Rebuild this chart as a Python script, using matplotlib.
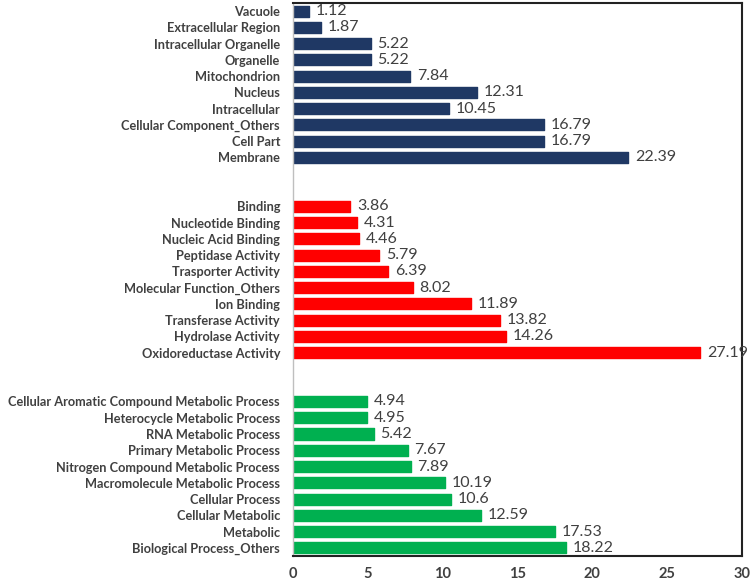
import matplotlib.pyplot as plt

cc_labels = ['Vacuole', 'Extracellular Region', 'Intracellular Organelle', 'Organelle',
             'Mitochondrion', 'Nucleus', 'Intracellular', 'Cellular Component_Others',
             'Cell Part', 'Membrane']
cc_values = [1.12, 1.87, 5.22, 5.22, 7.84, 12.31, 10.45, 16.79, 16.79, 22.39]

mf_labels = ['Binding', 'Nucleotide Binding', 'Nucleic Acid Binding', 'Peptidase Activity',
             'Trasporter Activity', 'Molecular Function_Others', 'Ion Binding',
             'Transferase Activity', 'Hydrolase Activity', 'Oxidoreductase Activity']
mf_values = [3.86, 4.31, 4.46, 5.79, 6.39, 8.02, 11.89, 13.82, 14.26, 27.19]

bp_labels = ['Cellular Aromatic Compound Metabolic Process', 'Heterocycle Metabolic Process',
             'RNA Metabolic Process', 'Primary Metabolic Process',
             'Nitrogen Compound Metabolic Process', 'Macromolecule Metabolic Process',
             'Cellular Process', 'Cellular Metabolic', 'Metabolic', 'Biological Process_Others']
bp_values = [4.94, 4.95, 5.42, 7.67, 7.89, 10.19, 10.6, 12.59, 17.53, 18.22]

x_ticks = [0, 5, 10, 15, 20, 25, 30]

groups = [(cc_labels, cc_values, '#1F3864'),
          (mf_labels, mf_values, '#FF0000'),
          (bp_labels, bp_values, '#00B050')]

plt.rcParams['font.family'] = ['Lato', 'DejaVu Sans']
text_color = '#404040'

fig = plt.figure(figsize=(7.52, 5.81), dpi=100)
ax = fig.add_axes([0.389, 0.043, 0.598, 0.952])

positions, labels = [], []
pos = 0
for names, vals, color in groups:
    ys = list(range(pos, pos + len(names)))
    ax.barh(ys, vals, height=0.68, color=color, edgecolor=color, linewidth=1,
            joinstyle='round')
    for y, v in zip(ys, vals):
        ax.text(v + 0.45, y, f'{v:g}', va='center', ha='left', fontsize=11.5,
                color=text_color)
    positions += ys
    labels += names
    pos += len(names) + 2

ax.set_yticks(positions)
ax.set_yticklabels(labels, fontsize=9.2, fontweight='bold', color=text_color)
ax.set_ylim(pos - 2 - 0.5, -0.5)
ax.set_xlim(0, 30)
ax.set_xticks(x_ticks)
ax.set_xticklabels([str(t) for t in x_ticks], fontsize=10.5, fontweight='bold',
                   color=text_color)
ax.tick_params(axis='both', length=0)
ax.tick_params(axis='x', pad=8)
ax.tick_params(axis='y', pad=9)

for s in ['top', 'right', 'bottom']:
    ax.spines[s].set_color('#222222')
    ax.spines[s].set_linewidth(1.5)
ax.spines['left'].set_color('#BFBFBF')
ax.spines['left'].set_linewidth(1)

fig.savefig('out.png', dpi=100)
